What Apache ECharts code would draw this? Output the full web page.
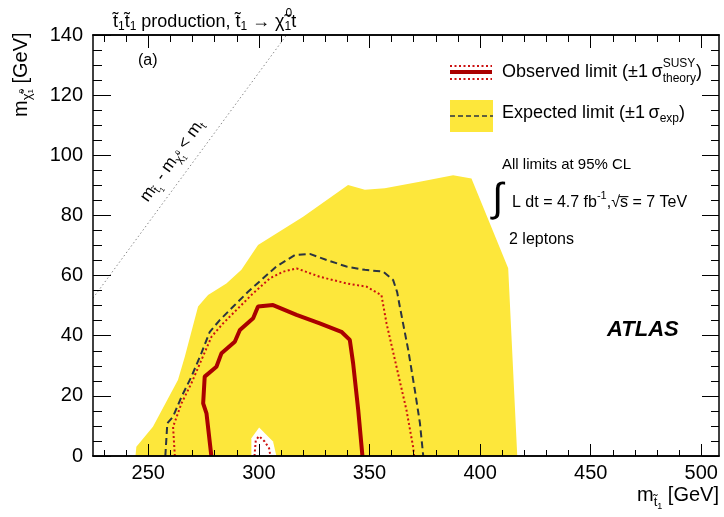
<!DOCTYPE html>
<html>
<head>
<meta charset="utf-8">
<script src="https://cdn.jsdelivr.net/npm/echarts@6/dist/echarts.min.js"></script>
<style>
  html, body { margin: 0; padding: 0; background: #fff; }
  #chart { width: 724px; height: 517px; }
</style>
</head>
<body>
<div id="chart"></div>
<script>
// Stop-pair exclusion limits in the (m_stop, m_neutralino) plane, values in GeV.
const xRange = [225, 508];
const yRange = [0, 140];
const xMajorTicks = [250, 300, 350, 400, 450, 500];
const xMinorTicks = [230, 240, 250, 260, 270, 280, 290, 300, 310, 320, 330, 340, 350, 360, 370, 380, 390, 400,
  410, 420, 430, 440, 450, 460, 470, 480, 490, 500];

// Expected limit +-1 sigma band (outer edge, filled down to zero)
const expectedBand = [[244.2, 0], [244.6, 3.1], [252.1, 9.7], [263.4, 25.3], [266.5, 33.0], [272.5, 49.7],
  [277.0, 53.5], [285.3, 57.4], [292.1, 61.9], [299.6, 70.2], [320.0, 79.6], [340.3, 90.1], [347.9, 88.5],
  [356.9, 89.0], [372.7, 91.2], [387.8, 93.4], [396.1, 92.3], [412.7, 62.4], [416.8, 0]];
// Uncovered pocket of the band near 300 GeV
const bandHole = [[296.6, 0], [296.6, 5.9], [300.1, 9.5], [306.4, 4.8], [307.9, 0]];
// Expected limit (central)
const expectedLimit = [[257.7, 0], [258.6, 10.9], [261.2, 13.1], [265.0, 19.7], [269.5, 26.4], [274.0, 34.2],
  [277.8, 41.3], [282.3, 45.2], [289.1, 50.2], [295.1, 54.6], [301.9, 59.1], [307.9, 63.0], [316.2, 66.8],
  [323.0, 67.2], [330.6, 65.2], [339.6, 63.0], [347.9, 61.9], [356.2, 61.3], [360.7, 58.5], [362.5, 54.5],
  [363.7, 49.7], [367.5, 35.3], [370.5, 21.9], [372.8, 10.9], [374.3, 0]];
// Observed limit
const observedLimit = [[278.5, 0], [276.3, 14.2], [274.8, 17.5], [275.5, 26.4], [280.8, 29.7], [283.1, 34.2],
  [289.1, 38.0], [291.4, 41.9], [297.4, 45.8], [299.6, 49.7], [306.4, 50.2], [317.0, 46.9], [327.5, 44.1],
  [337.3, 41.3], [341.1, 38.6], [342.6, 30.8], [344.9, 15.3], [346.8, 0]];
// Observed limit, +1 sigma theory
const observedUp = [[262.0, 0], [261.2, 9.7], [265.0, 17.5], [269.5, 24.2], [274.0, 31.9], [278.6, 39.7],
  [283.8, 44.1], [291.4, 49.7], [297.4, 54.1], [305.0, 59.1], [311.0, 61.3], [317.0, 62.4], [327.5, 59.6],
  [339.6, 57.4], [348.7, 56.3], [355.4, 53.5], [357.7, 44.1], [362.2, 29.7], [366.7, 15.3], [369.7, 3.1],
  [370.2, 0]];
// Observed limit, -1 sigma theory
const observedDown = [[298.0, 0], [298.6, 5.3], [300.1, 6.6], [302.6, 4.8], [304.6, 2.6], [305.2, 0]];
// Kinematic boundary m_stop - m_chi = m_top
const kinematicEdge = [[225, 52.5], [312.5, 140]];

const FAMILY = '"Liberation Sans", Arial, Helvetica, sans-serif';
const RED = '#aa0000';
const DOT_RED = '#cc1111';
const DASH = '#2b3441';
const YELLOW = '#fde73b';

// ---- small text layout helper for sub/superscripts ----
const mctx = document.createElement('canvas').getContext('2d');
function measure(t) {
  mctx.font = (t.italic ? 'italic ' : '') + (t.bold ? 'bold ' : '') + t.size + 'px ' + FAMILY;
  return mctx.measureText(t.s).width;
}
function layout(tokens, base) {
  let x = 0, prevStart = 0, prevEnd = 0;
  const children = [];
  tokens.forEach(function (tk) {
    const t = Object.assign({ size: base }, tk);
    const w = measure(t);
    const start = t.stack ? prevStart : x;
    children.push({
      type: 'text', x: start + (t.dx || 0), y: t.dy || 0, z: 100, silent: true,
      style: {
        text: t.s, fontSize: t.size, fontFamily: FAMILY,
        fontStyle: t.italic ? 'italic' : 'normal', fontWeight: t.bold ? 'bold' : 'normal',
        fill: '#000', align: 'left', verticalAlign: 'middle'
      }
    });
    const end = start + w;
    if (t.stack) {
      prevEnd = Math.max(prevEnd, end);
    } else {
      prevStart = start;
      prevEnd = end;
    }
    x = prevEnd;
  });
  return { width: x, children: children };
}
function mathGroup(tokens, base, x, y, opts) {
  opts = opts || {};
  const l = layout(tokens, base);
  const left = opts.alignRight ? x - l.width : x;
  return { type: 'group', x: left, y: y, rotation: opts.rotation || 0, z: 100, children: l.children };
}

const title = mathGroup([
  { s: 't\u0303' }, { s: '1', size: 12, dy: 5 },
  { s: 't\u0303' }, { s: '1', size: 12, dy: 5 },
  { s: ' production, t\u0303' }, { s: '1', size: 12, dy: 5 },
  { s: ' \u2192 \u03c7\u0303' }, { s: '1', size: 12, dy: 5 }, { s: '0', size: 12, dy: -8, dx: 1, stack: true },
  { s: 't' }
], 18, 113, 22);

const yName = mathGroup([
  { s: 'm' }, { s: '\u03c7\u0303', size: 13, dy: 6 }, { s: '1', size: 8, dy: 10 },
  { s: '0', size: 8, dy: 1, stack: true }, { s: ' [GeV]' }
], 20, 21, 117, { rotation: Math.PI / 2 });

const xName = mathGroup([
  { s: 'm' }, { s: 't\u0303', size: 13, dy: 7 }, { s: '1', size: 9, dy: 12 }, { s: ' [GeV]' }
], 20, 719, 495, { alignRight: true });

const diagLabel = mathGroup([
  { s: 'm' }, { s: 't\u0303', size: 11, dy: 5 }, { s: '1', size: 7, dy: 9 },
  { s: ' - m' }, { s: '\u03c7\u0303', size: 11, dy: 5 }, { s: '1', size: 7, dy: 9 },
  { s: '0', size: 7, dy: 0, stack: true },
  { s: ' < m' }, { s: 't', size: 11, dy: 5 }
], 17, 144, 200, { rotation: 0.946 });

const legObs = mathGroup([
  { s: 'Observed limit (\u00b11\u2009\u03c3' }, { s: 'SUSY', size: 12, dy: -8 },
  { s: 'theory', size: 12, dy: 7, stack: true }, { s: ')' }
], 18, 502, 72);
const legExp = mathGroup([
  { s: 'Expected limit (\u00b11\u2009\u03c3' }, { s: 'exp', size: 12, dy: 6 }, { s: ')' }
], 18, 502, 113);
const lumi = mathGroup([
  { s: 'L dt = 4.7 fb' }, { s: '-1', size: 11, dy: -7 }, { s: ',\u221as\u0305 = 7 TeV' }
], 16, 512, 203);

function plainText(text, x, y, size, extra) {
  return Object.assign({
    type: 'text', x: x, y: y, z: 100, silent: true,
    style: { text: text, fontSize: size, fontFamily: FAMILY, fill: '#000', align: 'left', verticalAlign: 'middle' }
  }, extra || {});
}

const graphics = [
  title, yName, xName, diagLabel, legObs, legExp, lumi,
  plainText('All limits at 95% CL', 502, 165, 15),
  plainText('2 leptons', 509, 240, 16),
  plainText('(a)', 138, 61, 16),
  {
    type: 'text', x: 492, y: 200, z: 100, silent: true,
    style: { text: '\u222b', fontSize: 40, fontFamily: FAMILY, fill: '#000', align: 'left', verticalAlign: 'middle' }
  },
  {
    type: 'text', x: 607, y: 330, z: 100, silent: true,
    style: {
      text: 'ATLAS', fontSize: 22, fontFamily: FAMILY, fontWeight: 'bold', fontStyle: 'italic',
      fill: '#000', align: 'left', verticalAlign: 'middle'
    }
  },
  // legend keys
  { type: 'rect', z: 90, shape: { x: 450, y: 100, width: 43, height: 32 }, style: { fill: YELLOW } },
  { type: 'line', z: 91, shape: { x1: 450, y1: 116, x2: 493, y2: 116 }, style: { stroke: DASH, lineWidth: 1.6, lineDash: [5, 3] } },
  { type: 'line', z: 91, shape: { x1: 450, y1: 72, x2: 492, y2: 72 }, style: { stroke: RED, lineWidth: 4 } },
  { type: 'line', z: 91, shape: { x1: 450, y1: 66, x2: 492, y2: 66 }, style: { stroke: DOT_RED, lineWidth: 2, lineDash: [2, 2.5] } },
  { type: 'line', z: 91, shape: { x1: 450, y1: 79, x2: 492, y2: 79 }, style: { stroke: DOT_RED, lineWidth: 2, lineDash: [2, 2.5] } }
];

function xAxisDef(position, ticks, len, withLabels) {
  return {
    type: 'value', position: position, min: xRange[0], max: xRange[1], z: 10,
    splitLine: { show: false },
    axisLine: { show: true, onZero: false, lineStyle: { color: '#000', width: 1.5 } },
    axisTick: { show: true, inside: true, length: len, customValues: ticks, lineStyle: { color: '#000', width: 1 } },
    axisLabel: withLabels ? {
      show: true, customValues: xMajorTicks, margin: 7, fontSize: 20, fontFamily: FAMILY, color: '#000'
    } : { show: false }
  };
}
function yAxisDef(position, major, minor, withLabels) {
  return {
    type: 'value', position: position, min: yRange[0], max: yRange[1], interval: 20, z: 10,
    splitLine: { show: false },
    axisLine: { show: true, onZero: false, lineStyle: { color: '#000', width: 1.5 } },
    axisTick: { show: true, inside: true, length: major, lineStyle: { color: '#000', width: 1 } },
    minorTick: { show: true, splitNumber: 4, length: minor, lineStyle: { color: '#000', width: 1 } },
    axisLabel: withLabels ? { show: true, margin: 10, fontSize: 20, fontFamily: FAMILY, color: '#000' } : { show: false }
  };
}

function limitLine(name, data, color, width, dash, z) {
  return {
    type: 'line', name: name, data: data, xAxisIndex: 0, yAxisIndex: 0, z: z,
    showSymbol: false, symbol: 'none', smooth: false, silent: true,
    lineStyle: { color: color, width: width, type: dash }
  };
}

const chart = echarts.init(document.getElementById('chart'), null, { renderer: 'canvas' });
chart.setOption({
  animation: false,
  backgroundColor: '#fff',
  grid: { left: 93, right: 5, top: 35, bottom: 61, containLabel: false, outerBoundsMode: 'none' },
  xAxis: [
    xAxisDef('bottom', xMajorTicks, 12, true),
    xAxisDef('bottom', xMinorTicks, 6, false),
    xAxisDef('top', xMajorTicks, 13, false),
    xAxisDef('top', xMinorTicks, 7, false)
  ],
  yAxis: [
    yAxisDef('left', 18, 9, true),
    yAxisDef('right', 17, 8, false)
  ],
  series: [
    {
      type: 'line', name: 'Expected band', data: expectedBand, z: 1, silent: true,
      showSymbol: false, symbol: 'none', lineStyle: { width: 0 },
      areaStyle: { color: YELLOW, opacity: 1, origin: 'start' }
    },
    {
      type: 'line', name: 'Band gap', data: bandHole, z: 1.5, silent: true,
      showSymbol: false, symbol: 'none', lineStyle: { width: 0 },
      areaStyle: { color: '#ffffff', opacity: 1, origin: 'start' }
    },
    limitLine('Kinematic edge', kinematicEdge, '#8a8a8a', 1, [1.5, 2.5], 2),
    limitLine('Expected limit', expectedLimit, DASH, 2, [7, 4], 3),
    limitLine('Observed +1 sigma', observedUp, DOT_RED, 2, [2, 2.5], 3),
    limitLine('Observed -1 sigma', observedDown, DOT_RED, 2, [2, 2.5], 3),
    limitLine('Observed limit', observedLimit, RED, 4, 'solid', 4)
  ],
  graphic: graphics
});
</script>
</body>
</html>
